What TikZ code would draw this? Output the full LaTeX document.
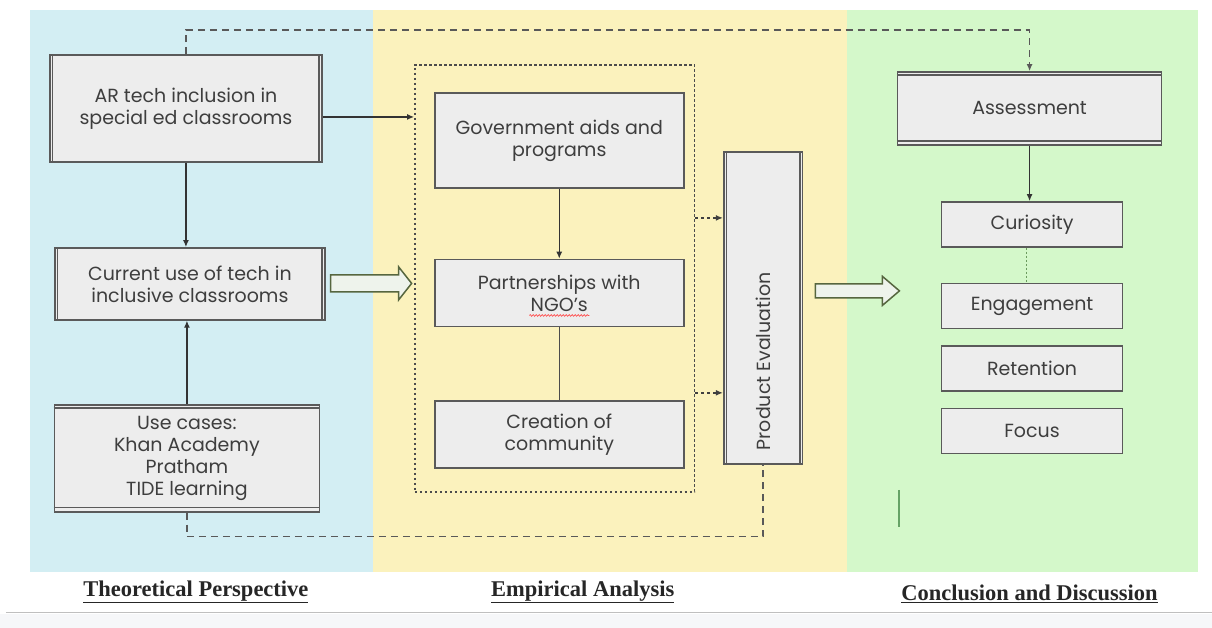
\documentclass[tikz,border=0pt]{standalone}
\usepackage{fontspec}
\setmainfont{Liberation Serif}
\newfontfamily\boxfont{Poppins}
\usetikzlibrary{arrows.meta,positioning,decorations.pathmorphing}
\definecolor{panelblue}{HTML}{D3EEF3}
\definecolor{panelyellow}{HTML}{FBF2BD}
\definecolor{panelgreen}{HTML}{D4F8CA}
\definecolor{pagegray}{HTML}{F6F7F9}
\definecolor{boxfill}{HTML}{EDEDED}
\definecolor{boxline}{HTML}{5A5A5A}
\definecolor{textgray}{HTML}{3E3E3E}
\definecolor{fatfill}{HTML}{EEF3EC}
\definecolor{fatline}{HTML}{56663F}
\definecolor{dotgreen}{HTML}{6B9A5E}

\begin{document}
\begin{tikzpicture}[x=1pt,y=-1pt,
  every node/.style={font=\boxfont\fontsize{19}{22}\selectfont,text=textgray,align=center,inner sep=0pt},
  box/.style={draw=boxline,fill=boxfill,line width=1.6pt},
  sidebars/.style={append after command={
    ([xshift=3.5pt]\tikzlastnode.north west) edge[draw=boxline,line width=1.6pt] ([xshift=3.5pt]\tikzlastnode.south west)
    ([xshift=-3.5pt]\tikzlastnode.north east) edge[draw=boxline,line width=1.6pt] ([xshift=-3.5pt]\tikzlastnode.south east)}},
  topbars/.style={append after command={
    ([yshift=-4pt]\tikzlastnode.north west) edge[draw=boxline,line width=1.6pt] ([yshift=-4pt]\tikzlastnode.north east)
    ([yshift=5pt]\tikzlastnode.south west) edge[draw=boxline,line width=1.6pt] ([yshift=5pt]\tikzlastnode.south east)}},
  prodbars/.style={append after command={
    ([xshift=3.5pt]\tikzlastnode.north west) edge[draw=boxline,line width=1.6pt] ([xshift=3.5pt]\tikzlastnode.north east)
    ([xshift=-3.5pt]\tikzlastnode.south west) edge[draw=boxline,line width=1.6pt] ([xshift=-3.5pt]\tikzlastnode.south east)}},
  smallbox/.style={box,minimum width=181pt,minimum height=45pt},
  midbox/.style={box,minimum width=249pt,minimum height=67pt},
  conn/.style={draw=black!80,line width=1.3pt,-{Latex[length=7pt,width=6pt]}},
  plain/.style={draw=black!70,line width=1.3pt},
  longdash/.style={draw=black!65,line width=1.7pt,dash pattern=on 7pt off 5pt},
  shortdash/.style={draw=black!75,line width=1.4pt,dash pattern=on 3pt off 3pt,-{Latex[length=7pt,width=6pt]}},
  groupline/.style={draw=black!70,line width=1.5pt,dash pattern=on 2.5pt off 2.5pt},
  fatarrow/.style={draw=fatline,fill=fatfill,line width=1.5pt,line join=miter},
  caption/.style={font=\rmfamily\bfseries\fontsize{22.5}{25}\selectfont,text=black!85}]

\fill[panelblue] (30,10) rectangle (373,572);
\fill[panelyellow] (373,10) rectangle (847,572);
\fill[panelgreen] (847,10) rectangle (1198,572);
\fill[pagegray] (0,614) rectangle (1212,628);
\draw[black!25,line width=1pt] (6,613) -- (1212,613);
\useasboundingbox (0,0) rectangle (1212,628);

\node[box,sidebars,minimum width=272pt,minimum height=107pt] (ar) at (186,108.5) {AR tech inclusion in\\special ed classrooms};
\node[box,sidebars,minimum width=270pt,minimum height=72pt] (cur) at (190,284) {Current use of tech in\\inclusive classrooms};
\node[box,topbars,minimum width=265pt,minimum height=107pt] (use) at (187,458.5) {Use cases:\\Khan Academy\\Pratham\\TIDE learning};

\node[groupline,minimum width=280pt,minimum height=427pt] (grp) at (555,278.5) {};
\node[box,minimum width=249pt,minimum height=95pt] (gov) at (559.5,140.5) {Government aids and\\programs};
\node[midbox,below=70pt of gov] (ngo) {Partnerships with\\NGO’s};
\node[midbox,below=73pt of ngo] (com) {Creation of\\community};
\node[box,prodbars,rotate=90,minimum width=312pt,minimum height=79pt] (prod) at (763.5,308) {Product Evaluation\hspace{107pt}};

\node[box,topbars,minimum width=264pt,minimum height=73pt] (ass) at (1030,108.5) {Assessment};
\node[smallbox] (cury) at (1032.5,224.5) {Curiosity};
\node[smallbox,below=35pt of cury] (eng) {Engagement};
\node[smallbox,below=16pt of eng] (ret) {Retention};
\node[smallbox,below=16pt of ret] (foc) {Focus};

\draw[conn] (ar.south) -- (ar.south |- cur.north);
\draw[conn] (use.north) -- (use.north |- cur.south);
\draw[conn] ([yshift=-8.5pt]ar.east) -- ([yshift=-8.5pt]ar.east -| grp.west);
\draw[conn] (gov) -- (ngo);
\draw[plain] (ngo) -- (com);
\draw[shortdash] (grp.east |- 0,218) -- (prod.north |- 0,218);
\draw[shortdash] (grp.east |- 0,393) -- (prod.north |- 0,393);
\draw[conn] (ass.south) -- (ass.south |- cury.north);
\draw[draw=dotgreen,line width=1.8pt,dash pattern=on 2pt off 2pt] (cury.south -| 1027,0) -- (eng.north -| 1027,0);
\draw[longdash,-{Latex[length=7pt,width=6pt]}] (ar.north) -- ++(0,-24) -| (ass.north);
\draw[longdash] (use.south) -- ++(0,24) -| (prod.west);
\draw[red!70,line width=0.7pt,decorate,decoration={snake,amplitude=0.8pt,segment length=3pt}] ([shift={(-30,22.5)}]ngo.center) -- ([shift={(30,22.5)}]ngo.center);

\draw[fatarrow] ([shift={(5,-9)}]cur.east) -- ++(68,0) -- ++(0,-8) -- ++(13,16.5) -- ++(-13,16.5) -- ++(0,-8) -- ++(-68,0) -- cycle;
\draw[fatarrow] ([shift={(12,-24)}]prod.south) -- ++(67,0) -- ++(0,-7.5) -- ++(17,14.5) -- ++(-17,14.5) -- ++(0,-7.5) -- ++(-67,0) -- cycle;
\draw[draw=black!60!green!60,line width=1.8pt] (899,490) -- (899,527);

\node[caption] (theo) at (196,592) {\underline{Theoretical Perspective}};
\node[caption] (emp) at (583,592) {\underline{Empirical Analysis}};
\node[caption] (concl) at (1030,594) {\underline{Conclusion and Discussion}};
\end{tikzpicture}
\end{document}
